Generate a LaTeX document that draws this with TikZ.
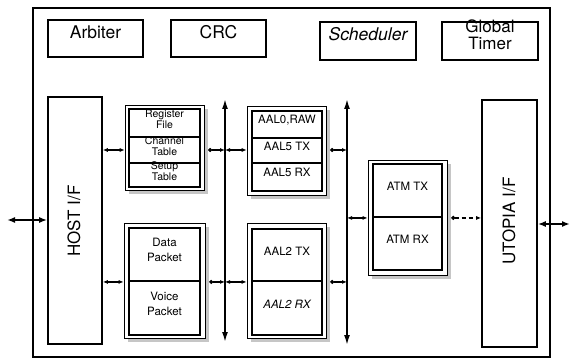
\documentclass[tikz,border=0pt]{standalone}
\usepackage{fontspec}
\setmainfont{TeX Gyre Heros}
\usetikzlibrary{arrows.meta,fit,calc}
\begin{document}
\begin{tikzpicture}[x=1pt,y=-1pt]
\tikzset{
 topbox/.style={draw, line width=1.6pt, inner sep=0pt, font=\fontsize{17.5}{19}\selectfont, align=center},
 grpbox/.style={draw, line width=0.6pt, fill=white, inner sep=0pt},
 shadowbox/.style={fill=gray!45, inner sep=0pt},
 cell/.style={draw, line width=1.9pt, inner sep=0pt, font=\fontsize{11.5}{12}\selectfont, align=center},
 smallcell/.style={cell, font=\fontsize{10.5}{11}\selectfont},
 ifbox/.style={draw, line width=1.6pt, inner sep=0pt},
 iflabel/.style={rotate=90, font=\fontsize{17}{20}\selectfont},
 bus/.style={line width=1.6pt, {Latex[length=10pt,width=6pt]}-{Latex[length=10pt,width=6pt]}},
 conn/.style={line width=1.2pt, {Latex[length=5pt,width=4pt]}-{Latex[length=5pt,width=4pt]}},
 dconn/.style={line width=1.2pt, {Circle[length=4pt]}-{Latex[length=5pt,width=4pt]}},
 extconn/.style={line width=1.6pt, {Latex[length=8pt,width=6pt]}-{Latex[length=8pt,width=6pt]}},
}
\useasboundingbox (0,0) rectangle (571,361);
% chip frame
\node[draw, line width=1.4pt, inner sep=0pt, fit={(33,8) (550,357)}] (chip) {};
% top row blocks
\node[topbox, fit={(48,20) (143,57)}] (arb) {Arbiter};
\node[topbox, fit={(171,20) (266,57)}] (crc) {CRC};
\node[topbox, fit={(320,22) (416,60)}] (sched) {\itshape Scheduler};
\node[topbox, fit={(442,22) (538,60)}, font=\fontsize{17}{16.5}\selectfont] (gt) {Global\\Timer};
% interfaces
\node[ifbox, fit={(48,97) (102,344)}] (host) {};
\node[iflabel] (hostlbl) at (74,221) {HOST I/F};
\node[ifbox, fit={(482,100) (537,347)}] (utopia) {};
\node[iflabel] (utlbl) at (509,221) {UTOPIA I/F};
% register group
\node[shadowbox, fit={(129,109) (208,194)}] (regS) {};
\node[grpbox, fit={(125,105) (204,190)}] (regG) {};
\node[smallcell, fit={(129,109) (200,137)}] (rf) {Register\\File};
\node[smallcell, fit={(129,137) (200,163)}] (ct) {Channel\\Table};
\node[smallcell, fit={(129,163) (200,187)}] (st) {Setup\\Table};
% data/voice group
\node[shadowbox, fit={(128,227) (209,342)}] (dvS) {};
\node[grpbox, fit={(124,223) (205,338)}] (dvG) {};
\node[cell, fit={(129,228) (200,281)}, font=\fontsize{11.5}{15}\selectfont] (dp) {Data\\Packet};
\node[cell, fit={(129,281) (200,335)}, font=\fontsize{11.5}{15}\selectfont] (vp) {Voice\\Packet};
% AAL group
\node[shadowbox, fit={(251,110) (330,199)}] (aalS) {};
\node[grpbox, fit={(247,106) (326,195)}] (aalG) {};
\node[cell, fit={(252,111) (322,138)}] (a0) {AAL0,RAW};
\node[cell, fit={(252,138) (322,163)}] (a5tx) {AAL5 TX};
\node[cell, fit={(252,163) (322,191)}] (a5rx) {AAL5 RX};
% AAL2 group
\node[shadowbox, fit={(251,227) (330,342)}] (a2S) {};
\node[grpbox, fit={(247,223) (326,338)}] (a2G) {};
\node[cell, fit={(252,229) (322,281)}] (a2tx) {AAL2 TX};
\node[cell, fit={(252,281) (322,335)}] (a2rx) {\itshape AAL2 RX};
% ATM group
\node[shadowbox, fit={(372,164) (451,279)}] (atmS) {};
\node[grpbox, fit={(368,160) (447,275)}] (atmG) {};
\node[cell, fit={(373,164) (442,217)}] (atx) {ATM TX};
\node[cell, fit={(373,217) (442,270)}] (arx) {ATM RX};
% buses
\coordinate (b1t) at (225,99);
\coordinate (b1b) at (225,342);
\coordinate (b2t) at (347,99);
\coordinate (b2b) at (347,345);
\draw[bus] (b1t) -- (b1b);
\draw[bus] (b2t) -- (b2b);
% connectors, upper row
\draw[conn] (host.east |- ct.center) -- (regG.west |- ct.center);
\draw[dconn] (regS.east |- ct.center) -- (b1t |- ct.center);
\draw[conn] (b1t |- ct.center) -- (aalG.west |- ct.center);
\draw[dconn] (aalS.east |- ct.center) -- (b2t |- ct.center);
% lower row
\draw[conn] (host.east |- dp.south) -- (dvG.west |- dp.south);
\draw[dconn] (dvS.east |- dp.south) -- (b1t |- dp.south);
\draw[conn] (b1t |- dp.south) -- (a2G.west |- dp.south);
\draw[dconn] (a2S.east |- dp.south) -- (b2t |- dp.south);
% ATM
\draw[conn] (b2t |- atx.south) -- (atmG.west |- atx.south);
\draw[dconn, dash pattern=on 4pt off 3pt] (atmS.east |- atx.south) -- (utopia.west |- atx.south);
% external
\coordinate (hostext) at (7,220);
\coordinate (utext) at (570,224);
\draw[extconn] (hostext) -- (host.west |- hostext);
\draw[extconn] (utopia.east |- utext) -- (utext);
\end{tikzpicture}
\end{document}
